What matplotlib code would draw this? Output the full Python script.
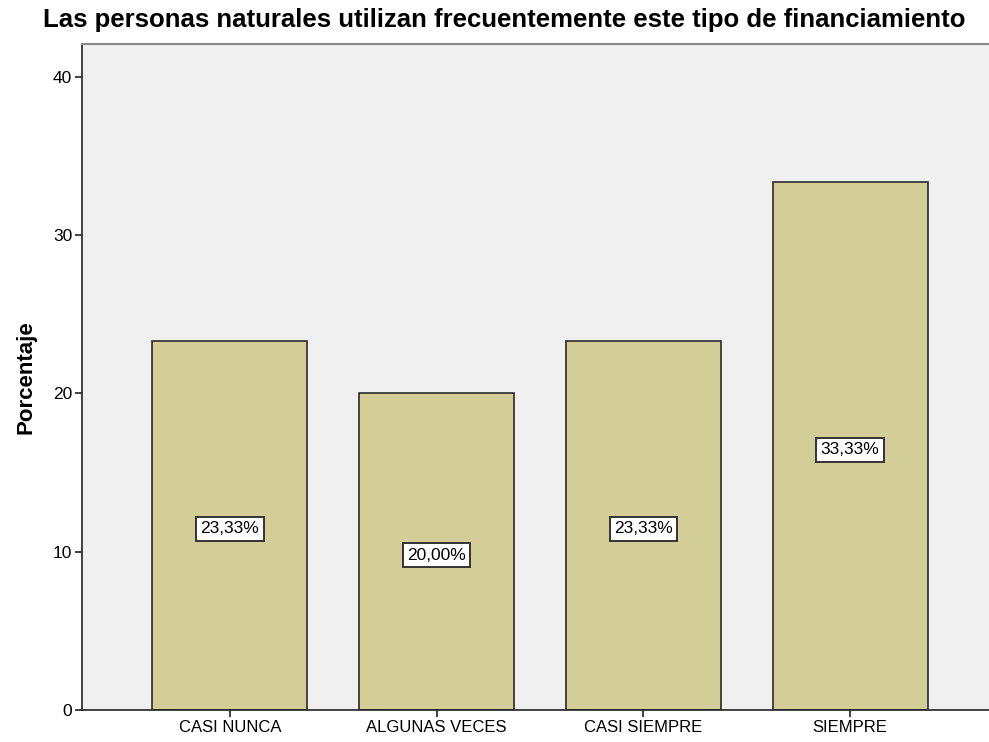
import matplotlib
matplotlib.use("Agg")
import matplotlib.pyplot as plt
from matplotlib.transforms import offset_copy

categories = ["CASI NUNCA", "ALGUNAS VECES", "CASI SIEMPRE", "SIEMPRE"]
values = [23.33, 20.00, 23.33, 33.33]
labels = ["23,33%", "20,00%", "23,33%", "33,33%"]
yticks = [0, 10, 20, 30, 40]

plt.rcParams['font.family'] = ['Liberation Sans', 'DejaVu Sans']

fig = plt.figure(figsize=(9.89, 7.42), dpi=100)
ax = fig.add_axes([82/989, 1-710/742, (998-82)/989, (710-43.5)/742])
ax.set_facecolor('#F0F0F0')

x = list(range(len(categories)))
ax.bar(x, values, width=0.75, color='#D3CE97', edgecolor='#2b2b2b', linewidth=1.2, zorder=2)
lab_tr = offset_copy(ax.transData, fig=fig, x=0, y=-2, units='dots')
for xi, v, lab in zip(x, values, labels):
    ax.text(xi, v/2, lab, ha='center', va='center_baseline', fontsize=12.5, zorder=3,
            transform=lab_tr,
            bbox=dict(boxstyle='square,pad=0.25', facecolor='white', edgecolor='#333333', linewidth=1.4))

ax.set_xlim(-0.716, 3.716)
ax.set_ylim(0, 42.1)
ax.set_xticks(x)
ax.set_xticklabels(categories, fontsize=12)
ax.set_yticks(yticks)
ax.set_yticklabels([str(t) for t in yticks], fontsize=12.5)
ax.tick_params(axis='both', direction='out', length=5, width=1.2, color='#222222', pad=2)
for s in ['left', 'bottom']:
    ax.spines[s].set_color('#222222')
    ax.spines[s].set_linewidth(1.2)
ax.spines['top'].set_color('#888888')
ax.spines['top'].set_linewidth(1.5)
ax.spines['right'].set_visible(False)
ax.set_ylabel('Porcentaje', fontsize=16, fontweight='bold', labelpad=12)
fig.text(504/989, 1-20/742, 'Las personas naturales utilizan frecuentemente este tipo de financiamiento',
         ha='center', va='center', fontsize=18.5, fontweight='bold')
fig.savefig('out.png', dpi=100)
